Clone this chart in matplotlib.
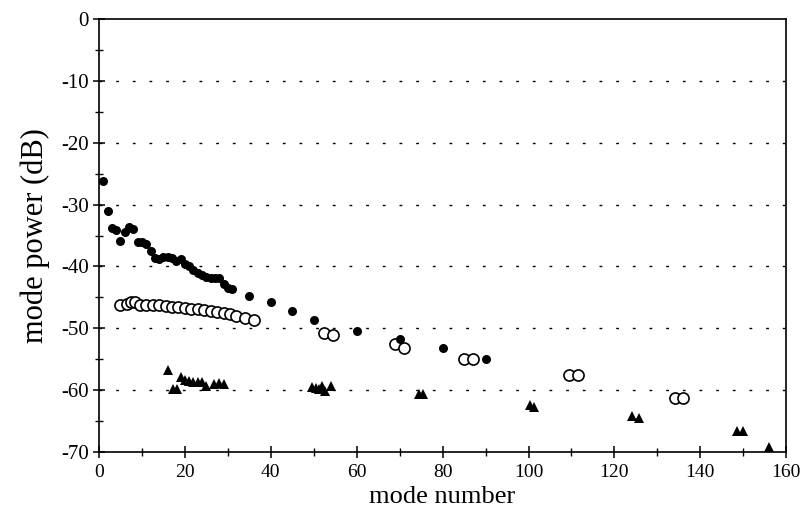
import matplotlib.pyplot as plt
from matplotlib.ticker import MultipleLocator



# Filled circles
filled_mode = [1, 2, 3, 4, 5, 6, 7, 8, 9, 10, 11, 12, 13, 14, 15, 16, 17, 18, 19, 20,
               21, 22, 23, 24, 25, 26, 27, 28, 29, 30, 31, 35, 40, 45, 50, 60, 70, 80, 90]
filled_db = [-26.2, -31.1, -33.8, -34.1, -35.9, -34.5, -33.7, -33.9, -36.0, -36.1,
             -36.4, -37.5, -38.6, -38.8, -38.5, -38.5, -38.7, -39.1, -38.8, -39.6,
             -40.0, -40.6, -41.1, -41.4, -41.7, -41.8, -41.8, -41.9, -42.9, -43.5,
             -43.7, -44.7, -45.7, -47.2, -48.6, -50.4, -51.8, -53.2, -55.0]

# Open circles
open_mode = [5, 6.5, 7.5, 8.5, 9.5, 11, 12.5, 14, 15.5, 17, 18.5, 20, 21.5, 23, 24.5,
             26, 27.5, 29, 30.5, 32, 34, 36, 52.5, 54.5, 69, 71, 85, 87, 109.5, 111.5,
             134, 136]
open_db = [-46.3, -46.0, -45.8, -45.7, -46.2, -46.2, -46.2, -46.2, -46.4, -46.5,
           -46.6, -46.7, -46.8, -46.9, -47.1, -47.2, -47.3, -47.5, -47.7, -48.0,
           -48.3, -48.6, -50.7, -51.1, -52.5, -53.2, -54.9, -54.9, -57.6, -57.6,
           -61.2, -61.2]

# Triangles
tri_mode = [16, 17.3, 18.2, 19, 20, 21, 22, 23, 24, 25, 26.8, 28, 29,
            49.5, 50.5, 51.3, 52, 52.6, 54, 74.5, 75.5, 100.3, 101.2,
            124, 125.7, 148.5, 150, 156]
tri_db = [-56.7, -59.8, -59.8, -57.9, -58.4, -58.5, -58.6, -58.6, -58.7, -59.3,
          -59.0, -58.8, -59.0, -59.5, -59.7, -59.8, -59.4, -60.1, -59.3, -60.7,
          -60.7, -62.4, -62.8, -64.1, -64.5, -66.6, -66.6, -69.2]



plt.rcParams['font.family'] = ['Liberation Serif', 'DejaVu Serif']
plt.rcParams['axes.unicode_minus'] = False

fig = plt.figure(figsize=(8.02, 5.21), dpi=100)
ax = fig.add_axes([0.1234, 0.1324, 0.857, 0.8311])

# Dotted gridlines
for g in [-10, -20, -30, -40, -50, -60]:
    ax.axhline(g, color='black', linewidth=1, linestyle=(0, (2, 10)), zorder=1)

ax.plot(filled_mode, filled_db, 'o', color='black', markersize=6.5,
        markeredgewidth=0, zorder=3)
ax.plot(open_mode, open_db, 'o', markerfacecolor='white', markeredgecolor='black',
        markersize=8, markeredgewidth=1.2, zorder=2)
ax.plot(tri_mode, tri_db, '^', color='black', markersize=6.5,
        markeredgewidth=0, zorder=3, clip_on=False)

ax.set_xlim(0, 160)
ax.set_ylim(-70, 0)
ax.xaxis.set_major_locator(MultipleLocator(20))
ax.xaxis.set_minor_locator(MultipleLocator(10))
ax.yaxis.set_major_locator(MultipleLocator(10))
ax.yaxis.set_minor_locator(MultipleLocator(5))

ax.tick_params(which='major', direction='inout', length=9, width=1.1,
               labelsize=15, color='black')
ax.tick_params(which='minor', direction='inout', length=6, width=1.0)
ax.tick_params(axis='x', pad=4, labelsize=14)
ax.tick_params(axis='y', pad=3)

for s in ax.spines.values():
    s.set_linewidth(1.2)

ax.set_xlabel('mode number', fontsize=19, labelpad=4)
ax.set_ylabel('mode power (dB)', fontsize=22, labelpad=8)

plt.savefig('out.png', dpi=100)
